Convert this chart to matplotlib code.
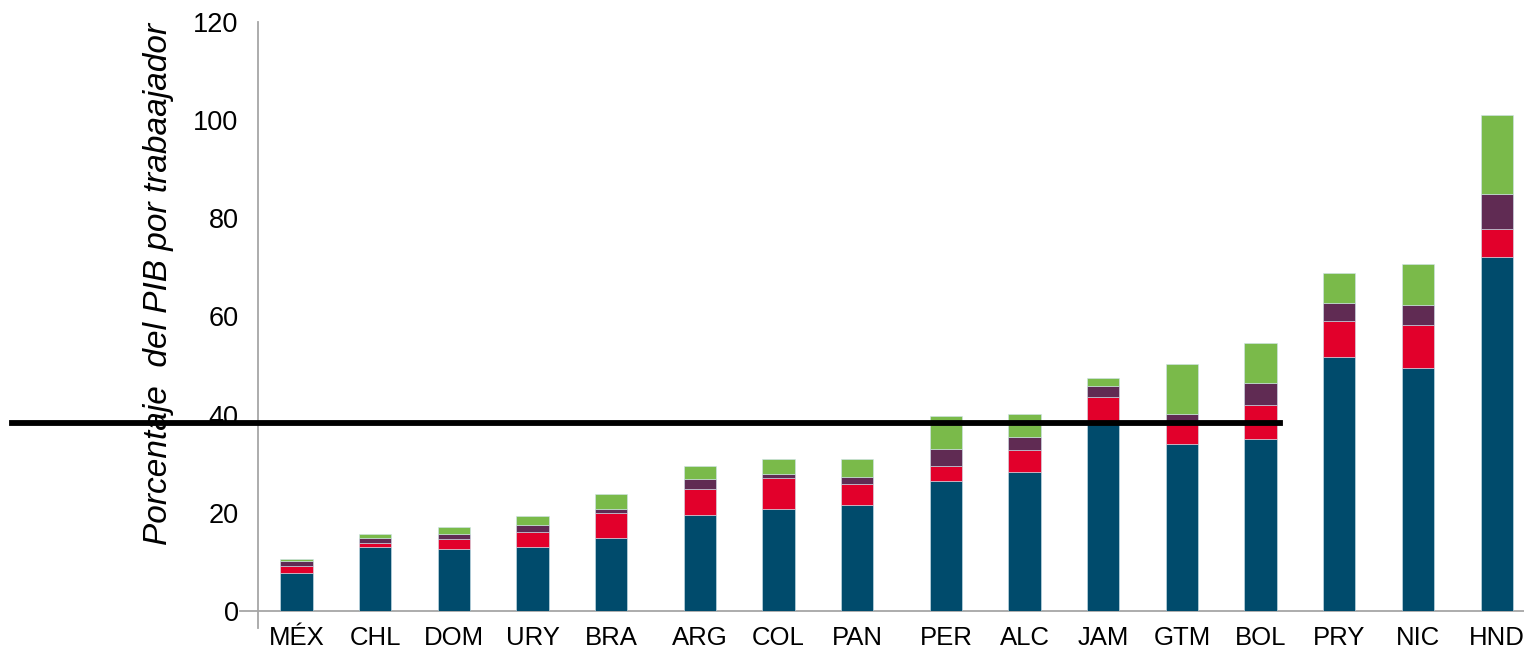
import numpy as np
import matplotlib
matplotlib.use("Agg")
import matplotlib.pyplot as plt

categories = ["MÉX", "CHL", "DOM", "URY", "BRA", "ARG", "COL", "PAN",
              "PER", "ALC", "JAM", "GTM", "BOL", "PRY", "NIC", "HND"]
blue_vals   = [7.7, 13.1, 12.7, 13.1, 14.9, 19.6, 20.7, 21.5, 26.5, 28.4, 38.8, 34.0, 35.0, 51.8, 49.6, 72.1]
red_vals    = [1.5, 0.8, 1.9, 2.9, 5.0, 5.3, 6.3, 4.4, 3.0, 4.4, 4.9, 4.8, 6.9, 7.3, 8.7, 5.7]
purple_vals = [1.0, 1.0, 1.1, 1.5, 0.8, 2.0, 1.0, 1.3, 3.6, 2.6, 2.1, 1.3, 4.6, 3.6, 4.0, 7.1]
green_vals  = [0.4, 0.8, 1.5, 1.9, 3.1, 2.6, 3.0, 3.8, 6.6, 4.7, 1.6, 10.2, 8.2, 6.2, 8.4, 16.1]
reference_level = 38.4
yticks = [0, 20, 40, 60, 80, 100, 120]
ylabel = "Porcentaje  del PIB por trabaajador"

colors = ["#004B6C", "#E2002B", "#602B53", "#7ABA4A"]

fig = plt.figure(figsize=(15.24, 6.55), dpi=100)
plt.rcParams['font.family'] = ['Liberation Sans', 'DejaVu Sans']

ax = fig.add_axes([258 / 1524, (655 - 611) / 655, (1536 - 258) / 1524, 589 / 655])

gap = 0.126
x = np.arange(len(categories), dtype=float)
x[5:] += gap
x[8:] += gap

width = 0.41
bottom = np.zeros(len(categories))
for vals, c in zip([blue_vals, red_vals, purple_vals, green_vals], colors):
    v = np.array(vals)
    ax.bar(x, v, width, bottom=bottom, color=c, edgecolor="#CFE3EC", linewidth=0.4, zorder=2)
    bottom += v

ax.set_xlim(x[0] - 0.49, x[-1] + 0.5)
ax.set_ylim(0, 120)

for s in ax.spines.values():
    s.set_visible(False)
ax.plot([-(258 - 240) / 1278, 1.0], [0, 0], transform=ax.transAxes, color="#A6A6A6",
        lw=1.3, clip_on=False, zorder=1)
ax.plot([0, 0], [-(628 - 611) / 589, 1.0], transform=ax.transAxes, color="#A6A6A6",
        lw=1.3, clip_on=False, zorder=1)

ax.set_yticks(yticks)
ax.set_yticklabels([str(t) for t in yticks], fontsize=19.5)
ax.tick_params(axis="y", length=0, pad=14)
ax.set_xticks(x)
ax.set_xticklabels(categories, fontsize=18.5)
ax.tick_params(axis="x", length=0, pad=11)

ax.set_ylabel(ylabel, fontsize=24, fontstyle="italic")
ax.yaxis.set_label_coords(-84 / 1278, (611 - 284) / 589)

x_left = -(258 - 12) / 1278
x_right = (1280 - 258) / 1278
ax.plot([x_left, x_right], [reference_level, reference_level],
        transform=ax.get_yaxis_transform(), color="black", lw=4.2, clip_on=False, zorder=5)

fig.savefig("out.png", dpi=100)
